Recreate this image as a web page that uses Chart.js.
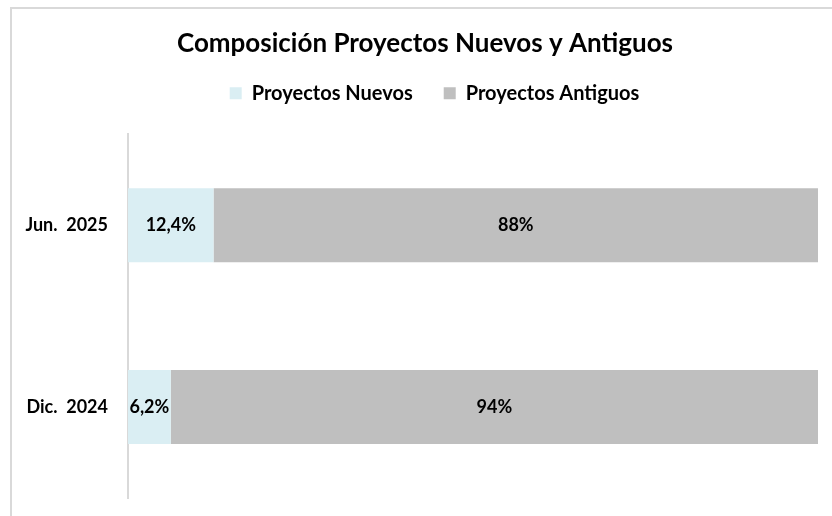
<!DOCTYPE html>
<html>
<head>
<meta charset="utf-8">
<script src="https://cdn.jsdelivr.net/npm/chart.js@4"></script>
<style>
  html, body { margin: 0; padding: 0; background: #fff; }
  #wrap { position: relative; width: 832px; height: 516px; overflow: hidden; }
  #frame { position: absolute; left: 10px; top: 7px; width: 900px; height: 600px;
           border-left: 2px solid #d9d9d9; border-top: 2px solid #d9d9d9; }
  canvas { position: absolute; left: 0; top: 0; }
</style>
</head>
<body>
<div id="wrap">
  <div id="frame"></div>
  <canvas id="chart" width="832" height="516"></canvas>
</div>
<script>
// Composición de proyectos (% del total)
const periodos = ['Jun.  2025', 'Dic.  2024'];
const nuevos = [12.4, 6.2];
const antiguos = [87.6, 93.8];

const fuente = 'Lato, Calibri, sans-serif';

// etiquetas dentro de las barras
const etiquetas = {
  id: 'etiquetas',
  afterDatasetsDraw(chart) {
    const ctx = chart.ctx;
    ctx.save();
    ctx.font = 'bold 18px ' + fuente;
    ctx.fillStyle = '#000';
    ctx.textAlign = 'center';
    ctx.textBaseline = 'middle';
    chart.data.datasets.forEach((ds, i) => {
      chart.getDatasetMeta(i).data.forEach((bar, j) => {
        const v = ds.data[j];
        const txt = i === 0 ? v.toFixed(1).replace('.', ',') + '%' : Math.round(v) + '%';
        ctx.fillText(txt, (bar.x + bar.base) / 2, bar.y);
      });
    });
    ctx.restore();
  }
};

// ajustes de posición de título y leyenda
const ajustes = {
  id: 'ajustes',
  beforeInit(chart) {
    const fit = chart.legend.fit;
    chart.legend.fit = function () {
      fit.call(this);
      this.height = 82;
    };
  },
  afterLayout(chart) {
    chart.titleBlock.left += 22;
    chart.legend.left += 41;
  }
};

new Chart(document.getElementById('chart'), {
  type: 'bar',
  data: {
    labels: periodos,
    datasets: [
      { label: 'Proyectos Nuevos', data: nuevos, backgroundColor: '#daeef3' },
      { label: 'Proyectos Antiguos', data: antiguos, backgroundColor: '#bfbfbf' }
    ]
  },
  options: {
    indexAxis: 'y',
    responsive: false,
    animation: false,
    layout: { padding: { left: 10, right: 14, top: 0, bottom: 18 } },
    datasets: { bar: { barPercentage: 0.407, categoryPercentage: 1 } },
    plugins: {
      title: {
        display: true,
        text: 'Composición Proyectos Nuevos y Antiguos',
        color: '#000',
        font: { family: fuente, size: 26, weight: 'bold' },
        padding: { top: 28, bottom: -7 }
      },
      legend: {
        position: 'top',
        labels: {
          color: '#000',
          font: { family: fuente, size: 20, weight: 'bold' },
          boxWidth: 12,
          boxHeight: 12,
          padding: 31
        }
      },
      tooltip: { enabled: false }
    },
    scales: {
      x: { stacked: true, min: 0, max: 100, display: false },
      y: {
        stacked: true,
        grid: { display: false, drawTicks: false },
        border: { display: true, color: '#d9d9d9', width: 2 },
        ticks: { color: '#000', padding: 20, font: { family: fuente, size: 18, weight: 'bold' } },
        afterFit(scale) {
          scale.width = 118;
          scale.paddingTop = 0;
          scale.paddingBottom = 0;
        }
      }
    }
  },
  plugins: [etiquetas, ajustes]
});
</script>
</body>
</html>
